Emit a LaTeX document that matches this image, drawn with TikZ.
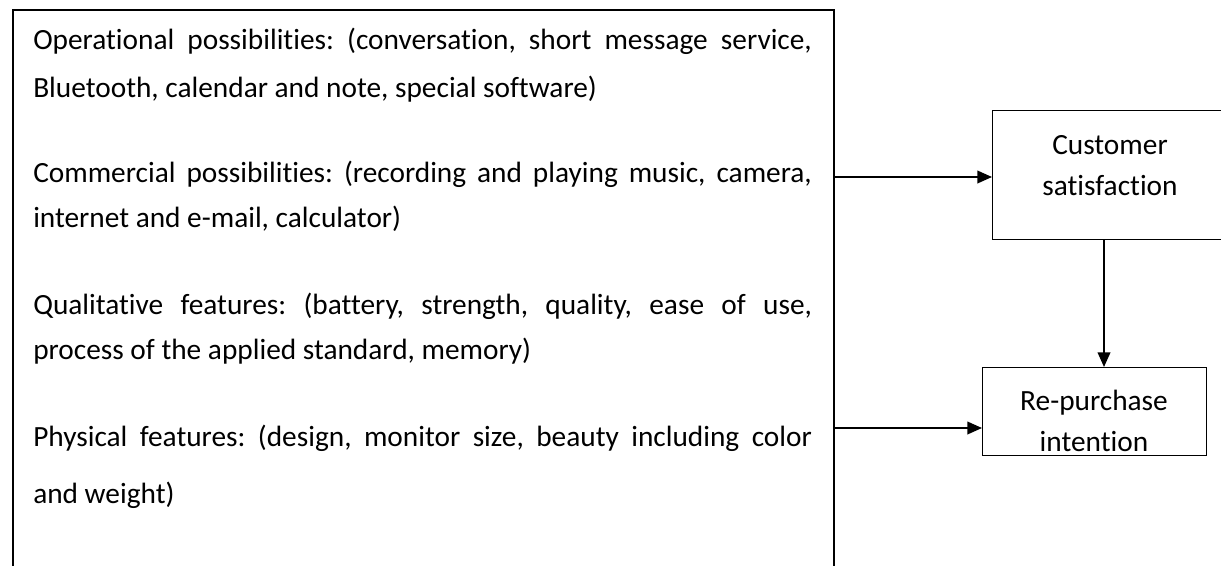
\documentclass[tikz,border=0pt]{standalone}
\usepackage{fontspec}
\setmainfont{Carlito}[Ligatures=NoCommon]
\usetikzlibrary{arrows.meta}

% one pixel of the layout grid
\def\px{0.75pt}
% width of a full (justified) line in the factor box
\def\colw{584pt}

\tikzset{
  framebox/.style={draw, line width=1.4pt, inner sep=0pt, anchor=north west},
  varbox/.style={draw, line width=1pt, inner sep=0pt, anchor=north west},
  itemline/.style={anchor=base west, inner sep=0pt, font=\fontsize{22}{26}\selectfont},
  boxtext/.style={align=center, inner sep=0pt, font=\fontsize{22}{30.75}\selectfont},
  link/.style={-{Triangle[length=11pt,width=9.5pt]}, line width=1.3pt}
}

\frenchspacing

\begin{document}
\begin{tikzpicture}[x=\px, y=-\px]

  \useasboundingbox (0,0) rectangle (1221,565);
  \clip (0,0) rectangle (1221,565);

  % Factor box (runs off the bottom of the page)
  \node[framebox, minimum width={821*\px}, minimum height={620*\px}] (frame) at (12,9) {};

  % Operational
  \node[itemline] (op1) at (33,49) {\makebox[\colw][s]{Operational possibilities: (conversation, short message service,}};
  \node[itemline] (op2) at (33,97) {Bluetooth, calendar and note, special software)};

  % Commercial
  \node[itemline] (com1) at (33,182) {\makebox[\colw][s]{Commercial possibilities: (recording and playing music, camera,}};
  \node[itemline] (com2) at (33,227) {internet and e-mail, calculator)};

  % Qualitative
  \node[itemline] (qual1) at (33,314) {\makebox[\colw][s]{Qualitative features: (battery, strength, quality, ease of use,}};
  \node[itemline] (qual2) at (33,359) {process of the applied standard, memory)};

  % Physical
  \node[itemline] (phys1) at (33,446) {\makebox[\colw][s]{Physical features: (design, monitor size, beauty including color}};
  \node[itemline] (phys2) at (33,503) {and weight)};

  % Outcome boxes
  \node[varbox, minimum width={240*\px}, minimum height={129*\px}] (cs) at (992,110) {};
  \node[boxtext] (cslabel) at (1110,166) {Customer\\satisfaction};

  \node[varbox, minimum width={224*\px}, minimum height={88*\px}] (rp) at (982,367) {};
  \node[boxtext] (rplabel) at (1094,421) {Re-purchase\\intention};

  % Arrows
  \coordinate (comout) at (833,177);
  \coordinate (physout) at (833,428);
  \coordinate (drop) at (1104,0);

  \draw[link] (comout) -- (comout -| cs.west);
  \draw[link] (physout) -- (physout -| rp.west);
  \draw[link] (drop |- cs.south) -- (drop |- rp.north);

\end{tikzpicture}
\end{document}
